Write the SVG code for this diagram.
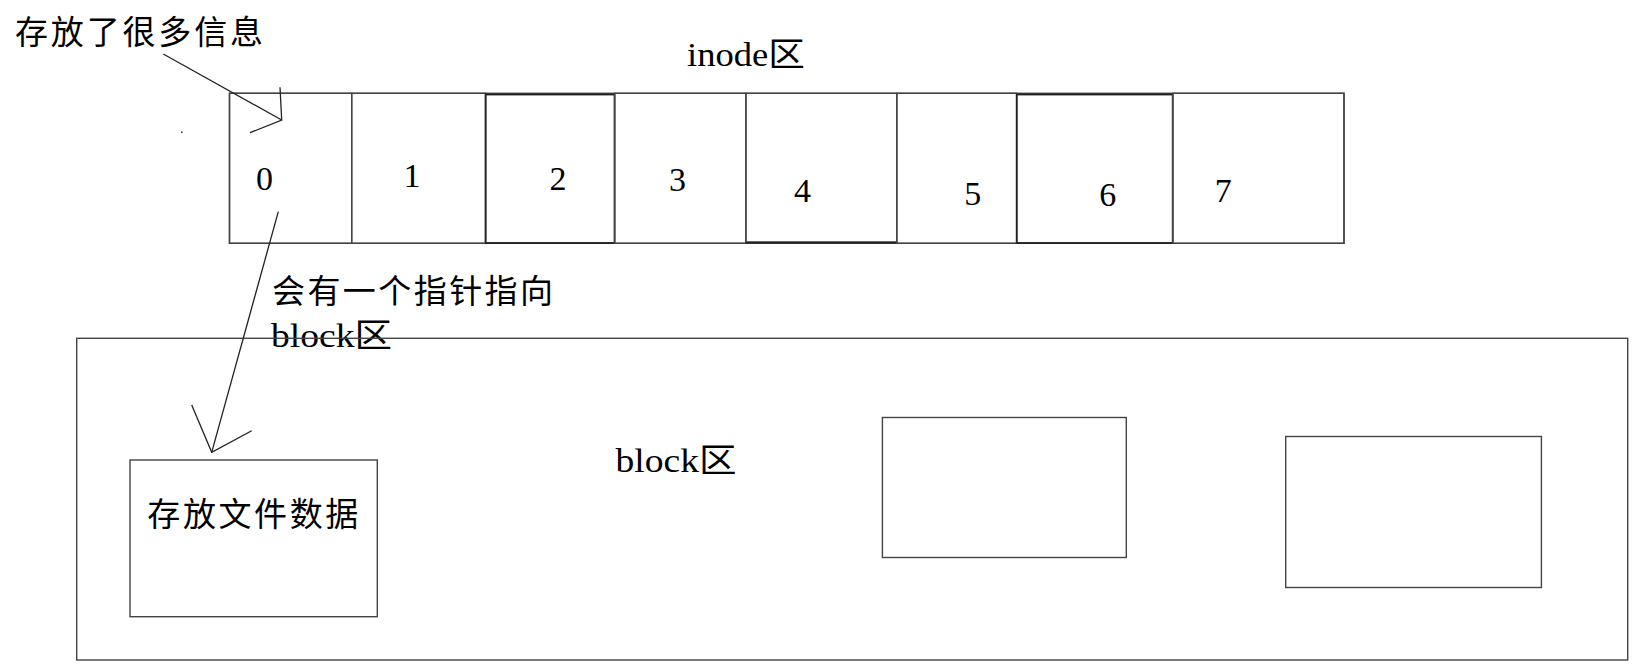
<svg xmlns="http://www.w3.org/2000/svg" width="1643" height="669" viewBox="0 0 1643 669">
<style>
.bx{fill:none;stroke:#444;stroke-width:1.4}
.bd{fill:none;stroke:#222;stroke-width:1.8}
.ln{fill:none;stroke:#222;stroke-width:1.3}
.cjk{font-family:"Noto Sans CJK SC","Noto Sans CJK JP",sans-serif;font-size:33px;fill:#000}
.lat{font-family:"Liberation Serif","Noto Sans CJK SC",serif;font-size:33px;fill:#000}
.dg{font-family:"Liberation Serif",serif;font-size:34px;fill:#000;text-anchor:middle}
</style>
<rect x="0" y="0" width="1643" height="669" fill="#fff"/>
<g id="label-info"><text class="cjk" x="15" y="43.5" textLength="248" lengthAdjust="spacing">存放了很多信息</text></g>
<g id="label-inode"><text class="lat" x="687" y="65.5" textLength="118" lengthAdjust="spacingAndGlyphs">inode区</text></g>
<g id="inode-strip">
<rect class="bx" x="229.5" y="93.3" width="1114.5" height="150"/>
</g>
<g id="cell0"><rect class="bx" x="229.5" y="93.3" width="122.2" height="150"/><text class="dg" x="264.6" y="190">0</text></g>
<g id="cell1"><rect class="bx" x="351.7" y="93.3" width="133.9" height="150"/><text class="dg" x="412" y="187">1</text></g>
<g id="cell2"><rect class="bd" x="485.6" y="94.5" width="129" height="148.5"/><text class="dg" x="558" y="190">2</text></g>
<g id="cell3"><rect class="bx" x="614.6" y="93.3" width="131.3" height="150"/><text class="dg" x="677.6" y="190.7">3</text></g>
<g id="cell4"><rect class="bx" x="745.9" y="93.3" width="150.9" height="149"/><line class="bd" x1="745.9" y1="242.5" x2="896.8" y2="242.5"/><text class="dg" x="802.6" y="201.7">4</text></g>
<g id="cell5"><rect class="bx" x="896.8" y="93.3" width="119.9" height="150"/><text class="dg" x="972.7" y="205">5</text></g>
<g id="cell6"><rect class="bd" x="1016.7" y="94.5" width="156" height="148.5"/><text class="dg" x="1107.7" y="206">6</text></g>
<g id="cell7"><rect class="bx" x="1172.7" y="93.3" width="171.3" height="150"/><text class="dg" x="1223.3" y="201.7">7</text></g>
<g id="label-pointer">
<text class="cjk" x="272" y="302.5" textLength="281" lengthAdjust="spacing">会有一个指针指向</text>
<text class="lat" x="271" y="346.5" textLength="121" lengthAdjust="spacingAndGlyphs">block区</text>
</g>
<g id="block-area"><rect class="bx" x="76.7" y="338.3" width="1551" height="321.7"/><text class="lat" x="615.5" y="472" textLength="121" lengthAdjust="spacingAndGlyphs">block区</text></g>
<g id="block-data"><rect class="bx" x="130" y="460" width="247.3" height="156.7"/><text class="cjk" x="147.3" y="525.5" textLength="211" lengthAdjust="spacing">存放文件数据</text></g>
<g id="block-2"><rect class="bx" x="882.4" y="417.5" width="243.9" height="140"/></g>
<g id="block-3"><rect class="bx" x="1285.7" y="436.5" width="255.7" height="151"/></g>
<g id="connectors">
<line class="ln" x1="163.3" y1="54" x2="281.7" y2="120"/>
<polyline class="ln" points="280,87.3 281.7,120 250,132.7"/>
<line class="ln" x1="278.3" y1="211.7" x2="211.7" y2="452.3"/>
<polyline class="ln" points="191.7,405 211.7,452.3 251.7,430.7"/>
</g>
<rect x="181" y="131.5" width="1.6" height="1.6" fill="#444"/>
</svg>
